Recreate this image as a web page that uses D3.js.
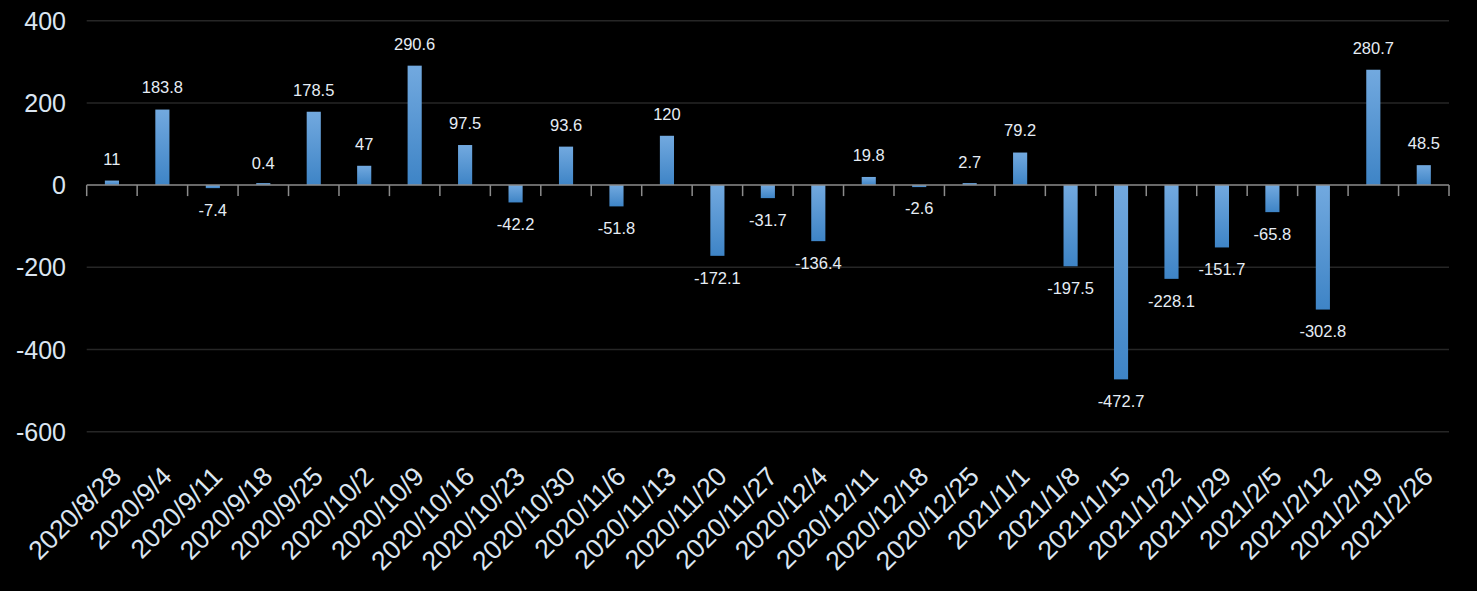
<!DOCTYPE html>
<html><head><meta charset="utf-8">
<script src="https://cdn.jsdelivr.net/npm/d3@7"></script>
<style>html,body{margin:0;padding:0;background:#000;}svg{display:block;}</style>
</head><body>
<svg id="c" width="1477" height="591"></svg>
<script>
const categories = ["2020/8/28","2020/9/4","2020/9/11","2020/9/18","2020/9/25","2020/10/2","2020/10/9","2020/10/16","2020/10/23","2020/10/30","2020/11/6","2020/11/13","2020/11/20","2020/11/27","2020/12/4","2020/12/11","2020/12/18","2020/12/25","2021/1/1","2021/1/8","2021/1/15","2021/1/22","2021/1/29","2021/2/5","2021/2/12","2021/2/19","2021/2/26"];
const values = [11,183.8,-7.4,0.4,178.5,47,290.6,97.5,-42.2,93.6,-51.8,120,-172.1,-31.7,-136.4,19.8,-2.6,2.7,79.2,-197.5,-472.7,-228.1,-151.7,-65.8,-302.8,280.7,48.5];
const yTicks = [400,200,0,-200,-400,-600];

const svg = d3.select("#c");
const pL = 86.7, pR = 1449, pT = 20.7, pB = 431.7;
const x = d3.scaleBand().domain(categories).range([pL, pR]).paddingInner(0.72).paddingOuter(0.36);
const y = d3.scaleLinear().domain([-600, 400]).range([pB, pT]);

const defs = svg.append("defs");
const g = defs.append("linearGradient").attr("id","bg").attr("x1",0).attr("y1",0).attr("x2",0).attr("y2",1);
g.append("stop").attr("offset","0%").attr("stop-color","#72a9df");
g.append("stop").attr("offset","100%").attr("stop-color","#3e84c6");

svg.append("g").selectAll("line").data(yTicks.filter(d=>d!==0)).join("line")
  .attr("x1", pL).attr("x2", pR).attr("y1", d=>y(d)).attr("y2", d=>y(d))
  .attr("stroke", "#262626").attr("stroke-width", 1.5);

svg.append("g").selectAll("text").data(yTicks).join("text")
  .attr("x", 66).attr("y", d=>y(d)).attr("dy","0.36em").attr("text-anchor","end")
  .attr("font-family","Liberation Sans, Arial, sans-serif").attr("font-size",25)
  .attr("fill","#dbe5f1").text(d=>d);

svg.append("g").selectAll("rect").data(values).join("rect")
  .attr("x", (d,i)=>x(categories[i])).attr("width", x.bandwidth())
  .attr("y", d=> d>=0 ? Math.min(y(d), y(0)-2) : y(0))
  .attr("height", d=>Math.max(2, Math.abs(y(d)-y(0))))
  .attr("fill","url(#bg)");

const step = x.step();
svg.append("line").attr("x1", pL).attr("x2", pR).attr("y1", y(0)).attr("y2", y(0))
  .attr("stroke","#8c8c8c").attr("stroke-width",1.5);
svg.append("g").selectAll("line").data(d3.range(categories.length+1)).join("line")
  .attr("x1", i=>pL+i*step).attr("x2", i=>pL+i*step)
  .attr("y1", y(0)).attr("y2", y(0)+11)
  .attr("stroke","#8c8c8c").attr("stroke-width",1.5);

svg.append("g").selectAll("text").data(values).join("text")
  .attr("x", (d,i)=>x(categories[i]) + x.bandwidth()/2)
  .attr("y", d=> d>=0 ? y(d) - 22 : y(d) + 22)
  .attr("dy","0.36em").attr("text-anchor","middle")
  .attr("font-family","Liberation Sans, Arial, sans-serif").attr("font-size",16.5)
  .attr("fill","#e6edf5").text(d=>d);

svg.append("g").selectAll("text").data(categories).join("text")
  .attr("transform", d=>`translate(${x(d)+x.bandwidth()/2+11},${478}) rotate(-45)`)
  .attr("text-anchor","end")
  .attr("font-family","Liberation Sans, Arial, sans-serif").attr("font-size",26.5)
  .attr("fill","#dbe5f1").text(d=>d);
</script>
</body></html>
